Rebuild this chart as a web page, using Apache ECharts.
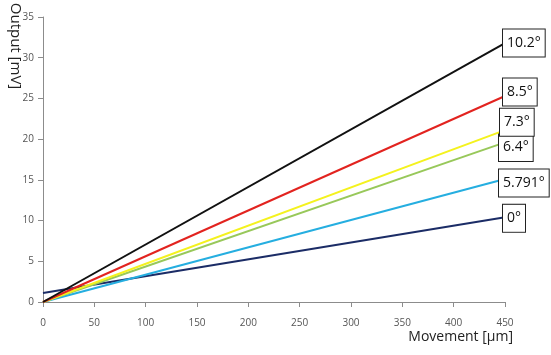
<!DOCTYPE html>
<html><head><meta charset="utf-8">
<script src="https://cdn.jsdelivr.net/npm/echarts@6/dist/echarts.min.js"></script>
<style>html,body{margin:0;padding:0;background:#fff}#c{width:551px;height:355px}</style>
</head><body><div id="c"></div>
<script>
var movement = [0, 450];
var labels = ['10.2°', '8.5°', '7.3°', '6.4°', '5.791°', '0°'];
var s102 = [0, 31.8];
var s85 = [0, 25.3];
var s73 = [0, 21.1];
var s64 = [0, 19.6];
var s5791 = [0, 15.1];
var s0 = [1.1, 10.4];
var yTicks = [0, 5, 10, 15, 20, 25, 30, 35];
var xTicks = [0, 50, 100, 150, 200, 250, 300, 350, 400, 450];

var allSeries = [s102, s85, s73, s64, s5791, s0];
var colors = ['#111111', '#e2231f', '#f4f21e', '#98c85a', '#25aee0', '#1b2c66'];
var offsets = [[-2, 0], [-2, -4], [-5, -8], [-6, 5], [-6, 4], [-2, 1]];
var font = 'Open Sans';

var chart = echarts.init(document.getElementById('c'), null, {renderer: 'canvas'});
chart.setOption({
  animation: false,
  grid: {left: 43, right: 46, top: 17, bottom: 53},
  xAxis: {
    type: 'value', min: 0, max: 450, interval: 50,
    axisLine: {lineStyle: {color: '#8c8c8c', width: 1}},
    axisTick: {show: true, length: 5, lineStyle: {color: '#8c8c8c'}},
    axisLabel: {color: '#555', fontSize: 10, fontFamily: font, margin: 16,
      formatter: function (v) { return xTicks.indexOf(v) >= 0 ? String(v) : ''; }},
    splitLine: {show: false}
  },
  yAxis: {
    type: 'value', min: 0, max: 35, interval: 5,
    axisLine: {show: true, lineStyle: {color: '#8c8c8c', width: 1}},
    axisTick: {show: true, length: 5, lineStyle: {color: '#8c8c8c'}},
    axisLabel: {color: '#555', fontSize: 10, fontFamily: font, margin: 9,
      formatter: function (v) { return yTicks.indexOf(v) >= 0 ? String(v) : ''; }},
    splitLine: {show: false}
  },
  graphic: [
    {type: 'text', x: 15, y: 46, rotation: -Math.PI / 2,
      style: {text: 'Output [mV]', fontSize: 15, fontFamily: font, fill: '#222',
        textAlign: 'center', textVerticalAlign: 'middle'}},
    {type: 'text', x: 513, y: 337,
      style: {text: 'Movement [μm]', fontSize: 14, fontFamily: font, fill: '#222',
        textAlign: 'right', textVerticalAlign: 'middle'}}
  ],
  series: allSeries.map(function (vals, i) {
    return {
      type: 'line', name: labels[i], symbol: 'none',
      data: movement.map(function (x, j) { return [x, vals[j]]; }),
      lineStyle: {color: colors[i], width: 2},
      itemStyle: {color: colors[i]},
      z: 10 - i,
      endLabel: {
        show: true, formatter: labels[i], distance: 0, offset: offsets[i],
        fontSize: 14, fontFamily: font, color: '#111',
        backgroundColor: '#fff', borderColor: '#222', borderWidth: 1,
        padding: [7, 4, 6, 4]
      }
    };
  })
});
</script></body></html>
